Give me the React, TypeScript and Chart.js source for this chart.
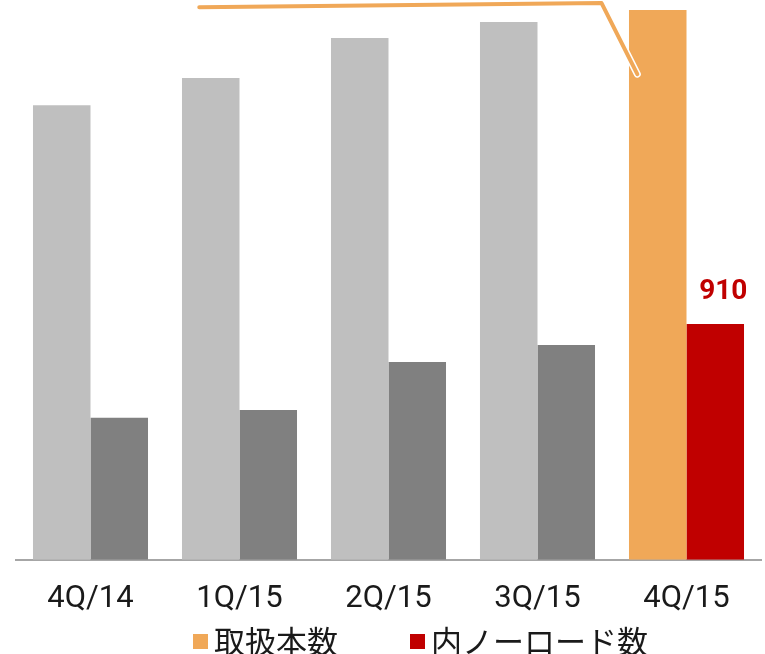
import React, { useEffect, useRef } from "react";
import { Chart, registerables } from "chart.js";

Chart.register(...registerables);

const categories = ["4Q/14", "1Q/15", "2Q/15", "3Q/15", "4Q/15"];
const totalCounts = [1754, 1859, 2013, 2075, 2121];
const noLoadCounts = [548, 578, 763, 829, 910];
const seriesNames = ["取扱本数", "内ノーロード数"];
const totalColors = ["#BFBFBF", "#BFBFBF", "#BFBFBF", "#BFBFBF", "#F0A858"];
const noLoadColors = ["#808080", "#808080", "#808080", "#808080", "#C00000"];
const legendColors = ["#F0A858", "#C00000"];
const calloutX = [0.73, 3.43, 3.67];
const calloutY = [2132, 2148, 1874];
const labelledIndex = 4;

const CJK = "'Noto Sans CJK JP', 'Noto Sans', sans-serif";
const LATIN = "Roboto, 'Noto Sans', sans-serif";

const valueLabelPlugin = {
  id: "valueLabel",
  afterDatasetsDraw(chart: any) {
    const meta = chart.getDatasetMeta(1);
    const el = meta.data[labelledIndex];
    if (!el) return;
    const ctx = chart.ctx;
    ctx.save();
    ctx.font = `bold 28px ${LATIN}`;
    ctx.fillStyle = "#C00000";
    ctx.textAlign = "center";
    ctx.textBaseline = "alphabetic";
    ctx.fillText(String(noLoadCounts[labelledIndex]), el.x + 8, el.y - 25);
    ctx.restore();
  },
};

const customLegendPlugin = {
  id: "customLegend",
  afterDraw(chart: any) {
    const ctx = chart.ctx;
    const starts = [193, 410];
    const y = 641;
    ctx.save();
    ctx.font = `31px ${CJK}`;
    ctx.textBaseline = "middle";
    ctx.textAlign = "left";
    seriesNames.forEach((name, i) => {
      const x = starts[i];
      ctx.fillStyle = legendColors[i];
      ctx.fillRect(x, y - 7, 15, 15);
      ctx.fillStyle = "#1a1a1a";
      ctx.fillText(name, x + 21, y);
    });
    ctx.restore();
  },
};

export default function App() {
  const ref = useRef<HTMLCanvasElement | null>(null);
  useEffect(() => {
    if (!ref.current) return;
    const calloutPoints = calloutX.map((x, i) => ({ x, y: calloutY[i] }));
    const chart = new Chart(ref.current, {
      type: "bar",
      data: {
        datasets: [
          {
            label: seriesNames[0],
            data: totalCounts.map((v, i) => ({ x: i, y: v })),
            backgroundColor: totalColors,
            borderWidth: 0,
            order: 5,
          },
          {
            label: seriesNames[1],
            data: noLoadCounts.map((v, i) => ({ x: i, y: v })),
            backgroundColor: noLoadColors,
            borderWidth: 0,
            order: 5,
          },
          {
            type: "line",
            label: "callout-halo",
            data: calloutPoints,
            borderColor: "#FFFFFF",
            borderWidth: 7,
            borderCapStyle: "round",
            borderJoinStyle: "round",
            pointRadius: 0,
            fill: false,
            clip: false,
            order: 2,
          } as any,
          {
            type: "line",
            label: "callout",
            data: calloutPoints,
            borderColor: "#F0A858",
            borderWidth: 4,
            borderCapStyle: "round",
            borderJoinStyle: "round",
            pointRadius: 0,
            fill: false,
            clip: false,
            order: 1,
          } as any,
        ],
      },
      options: {
        animation: false,
        responsive: true,
        maintainAspectRatio: false,
        layout: { padding: { left: 16, right: 4, top: 0, bottom: 23 } },
        datasets: {
          bar: { categoryPercentage: 0.772, barPercentage: 1 },
        },
        scales: {
          x: {
            type: "linear",
            min: -0.5,
            max: 4.5,
            offset: false,
            grid: { display: false },
            border: { display: true, color: "#A6A6A6", width: 2 },
            afterBuildTicks: (axis: any) => {
              axis.ticks = categories.map((_, i) => ({ value: i }));
            },
            ticks: {
              color: "#1a1a1a",
              font: { family: LATIN, size: 31 },
              padding: 13,
              autoSkip: false,
              maxRotation: 0,
              callback: (v: any) => categories[Math.round(Number(v))] ?? "",
            },
          },
          y: {
            display: false,
            min: 0,
            max: 2160,
          },
        },
        plugins: {
          tooltip: { enabled: false },
          legend: { display: false },
        },
      },
      plugins: [valueLabelPlugin, customLegendPlugin],
    });
    return () => chart.destroy();
  }, []);
  return (
    <div style={{ position: "fixed", left: 0, top: 0, width: 765, height: 654, background: "#fff" }}>
      <canvas ref={ref} />
    </div>
  );
}
